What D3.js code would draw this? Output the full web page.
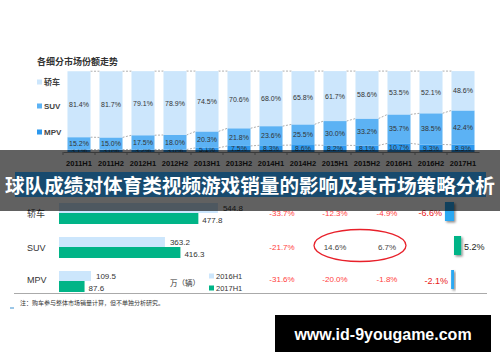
<!DOCTYPE html>
<html>
<head>
<meta charset="utf-8">
<script src="https://cdn.jsdelivr.net/npm/d3@7"></script>
<style>
  body { margin: 0; background: #fff; }
  svg { display: block; }
  text { font-family: "Liberation Sans", Arial, sans-serif; }
  .cn { font-family: "Noto Sans CJK SC", sans-serif; }
</style>
</head>
<body>
<svg id="chart" width="500" height="362"></svg>
<script>
// share trend per half year
var periods = ["2011H1","2011H2","2012H1","2012H2","2013H1","2013H2","2014H1","2014H2","2015H1","2015H2","2016H1","2016H2","2017H1"];
var sedanShare = [81.4, 81.7, 79.1, 78.9, 74.5, 70.6, 68.0, 65.8, 61.7, 58.6, 53.5, 52.1, 48.6];
var suvShare   = [15.2, 15.0, 17.5, 18.0, 20.3, 21.8, 23.6, 25.5, 30.0, 33.2, 35.7, 38.5, 42.4];
var mpvShare   = [3.1, 3.0, 3.2, 3.0, 5.1, 7.5, 8.3, 8.6, 8.2, 8.1, 10.7, 9.3, 8.9];
var segNames = ["轿车", "SUV", "MPV"];

// volume (万辆) 2016H1 vs 2017H1
var cats = ["轿车", "SUV", "MPV"];
var vol2016 = [544.8, 363.2, 109.5];
var vol2017 = [477.8, 416.3, 87.6];
var pctCols = [
  ["-33.7%", "-21.7%", "-31.6%"],
  ["-12.3%", "14.6%", "-20.0%"],
  ["-4.9%", "6.7%", "-1.8%"]
];
var growth = [-6.6, 5.2, -2.1];

var svg = d3.select("#chart");
var segColors = {"轿车": "#cce6fc", "SUV": "#5cb2f4", "MPV": "#2b98ee"};

// ---------- top: stacked share bars ----------
svg.append("text").attr("class","cn").attr("x",37).attr("y",65)
  .attr("font-size",9).attr("font-weight","bold").attr("fill","#333").text("各细分市场份额走势");

var legY = [82, 106, 132];
segNames.forEach(function(n, i){
  svg.append("rect").attr("x",37).attr("y",legY[i]-2.5).attr("width",5).attr("height",5).attr("fill",segColors[n]);
  svg.append("text").attr("class", i==0 ? "cn" : null).attr("x",44).attr("y",legY[i]+3)
    .attr("font-size",8).attr("font-weight","bold").attr("fill","#444").text(n);
});

var x = d3.scaleBand().domain(periods).range([63, 479]).paddingInner(0.28).paddingOuter(0.14);
var y = d3.scaleLinear().domain([0, 100]).range([152, 71]);

var rows = periods.map(function(p, i){
  return {period: p, "MPV": mpvShare[i], "SUV": suvShare[i], "轿车": sedanShare[i]};
});
var stacked = d3.stack().keys(["MPV","SUV","轿车"])(rows);

// dashed connectors between bars
var bw = x.bandwidth();
stacked.forEach(function(layer){
  for (var i = 0; i < periods.length - 1; i++) {
    svg.append("line")
      .attr("x1", x(periods[i]) + bw).attr("y1", y(layer[i][1]))
      .attr("x2", x(periods[i+1])).attr("y2", y(layer[i+1][1]))
      .attr("stroke","#999").attr("stroke-width",0.8).attr("stroke-dasharray","2,1.5");
  }
});

stacked.forEach(function(layer){
  var g = svg.append("g");
  g.selectAll("rect").data(layer).enter().append("rect")
    .attr("x", function(d){ return x(d.data.period); })
    .attr("y", function(d){ return y(d[1]); })
    .attr("width", bw)
    .attr("height", function(d){ return y(d[0]) - y(d[1]); })
    .attr("fill", segColors[layer.key]);
  g.selectAll("text").data(layer).enter().append("text")
    .attr("x", function(d){ return x(d.data.period) + bw/2; })
    .attr("y", function(d){ return (y(d[0]) + y(d[1]))/2 + 2.5; })
    .attr("text-anchor","middle").attr("font-size",7).attr("fill","#333")
    .text(function(d){ return (d[1]-d[0]).toFixed(1) + "%"; });
});

var xAxis = svg.append("g").attr("transform","translate(0,152)")
  .call(d3.axisBottom(x).tickSize(0).tickPadding(9));
xAxis.select(".domain").attr("stroke","#999");
xAxis.selectAll("text").attr("font-size",7.5).attr("font-weight","bold").attr("fill","#222")
  .attr("font-family","Liberation Sans, Arial, sans-serif");
periods.forEach(function(p){
  svg.append("line").attr("x1", x(p) - (x.step()-bw)/2).attr("x2", x(p) - (x.step()-bw)/2)
    .attr("y1",152).attr("y2",155).attr("stroke","#999");
});

// ---------- bottom: volumes ----------
var yc = d3.scaleBand().domain(cats).range([196, 298]);
var xv = d3.scaleLinear().domain([0, 600]).range([59, 234]);
var textShift = [0, 0, -2]; // MPV row text sits a bit higher than its bars

cats.forEach(function(c, i){
  var cy = yc(c) + yc.bandwidth()/2;
  svg.append("text").attr("class", i==0 ? "cn" : null).attr("x",27).attr("y",cy+3.5+textShift[i])
    .attr("font-size",9).attr("fill","#333").text(c);
  svg.append("rect").attr("x",xv(0)).attr("y",cy-10).attr("width",xv(vol2016[i])-xv(0)).attr("height",10)
    .attr("fill","#cce6fc");
  svg.append("rect").attr("x",xv(0)).attr("y",cy).attr("width",xv(vol2017[i])-xv(0)).attr("height",11)
    .attr("fill","#00b487");
  svg.append("text").attr("x",xv(vol2016[i])+5).attr("y",cy-2).attr("font-size",8).attr("fill","#333")
    .text(vol2016[i].toFixed(1));
  svg.append("text").attr("x",xv(vol2017[i])+4).attr("y",cy+10).attr("font-size",8).attr("fill","#333")
    .text(vol2017[i].toFixed(1));
});

var colX = [282, 335, 387];
pctCols.forEach(function(col, j){
  col.forEach(function(t, i){
    var cy = yc(cats[i]) + yc.bandwidth()/2;
    svg.append("text").attr("x",colX[j]).attr("y",cy+3+textShift[i]).attr("text-anchor","middle")
      .attr("font-size",8).attr("fill", t.charAt(0)=="-" ? "#ff4040" : "#444").text(t);
  });
});
svg.append("ellipse").attr("cx",360).attr("cy",245.5).attr("rx",46).attr("ry",16)
  .attr("fill","none").attr("stroke","#e8202a").attr("stroke-width",1.3);

// growth bars
var defs = svg.append("defs");
defs.append("filter").attr("id","sh").attr("x","-50%").attr("y","-50%").attr("width","200%").attr("height","200%")
  .append("feDropShadow").attr("dx",1.5).attr("dy",1.5).attr("stdDeviation",0.8)
  .attr("flood-color","#000").attr("flood-opacity",0.45);
var xg = d3.scaleLinear().domain([-10, 10]).range([440.3, 467.7]);
growth.forEach(function(v, i){
  var cy = yc(cats[i]) + yc.bandwidth()/2;
  var x0 = Math.min(xg(0), xg(v)), w = Math.abs(xg(v) - xg(0));
  svg.append("rect").attr("x",x0).attr("y",cy-11).attr("width",w).attr("height",19)
    .attr("fill", v < 0 ? "#2aa8f2" : "#00b487").attr("filter","url(#sh)");
  var lbl = v.toFixed(1) + "%";
  if (v < 0) {
    svg.append("text").attr("x",x0-3).attr("y",cy+3).attr("text-anchor","end")
      .attr("font-size",9).attr("fill","#e82020").text(lbl);
  } else {
    svg.append("text").attr("x",x0+w+3).attr("y",cy+3).attr("font-size",9).attr("fill","#222").text(lbl);
  }
});

// legend / unit
svg.append("text").attr("class","cn").attr("x",170).attr("y",286).attr("font-size",7.5).attr("fill","#333").text("万（辆）");
[["2016H1","#cce6fc",276],["2017H1","#00b487",288]].forEach(function(l){
  svg.append("rect").attr("x",209).attr("y",l[2]-2.5).attr("width",5).attr("height",5).attr("fill",l[1]);
  svg.append("text").attr("x",216).attr("y",l[2]+3).attr("font-size",7.5).attr("fill","#333").text(l[0]);
});

svg.append("line").attr("x1",14).attr("x2",487).attr("y1",293.5).attr("y2",293.5).attr("stroke","#aaa").attr("stroke-width",1);
svg.append("text").attr("class","cn").attr("x",20).attr("y",305).attr("font-size",6).attr("fill","#333")
  .text("注：购车参与整体市场销量计算，但不单独分析研究。");
svg.append("rect").attr("x",10).attr("y",307.5).attr("width",4).attr("height",1).attr("fill","#3a8fd0");

// ---------- overlay banner ----------
svg.append("rect").attr("x",0).attr("y",150).attr("width",500).attr("height",61).attr("fill","rgba(0,0,0,0.62)");
svg.append("rect").attr("x",15).attr("y",172).attr("width",471).attr("height",25).attr("fill","#174a6e");
svg.append("text").attr("class","cn").attr("x",250).attr("y",193).attr("text-anchor","middle")
  .attr("font-size",19.6).attr("font-weight","bold").attr("fill","#fff")
  .text("球队成绩对体育类视频游戏销量的影响及其市场策略分析");

// watermark
svg.append("rect").attr("x",275).attr("y",315).attr("width",216).attr("height",37).attr("fill","#000");
svg.append("text").attr("x",383).attr("y",340).attr("text-anchor","middle")
  .attr("font-family","DejaVu Sans, sans-serif").attr("font-size",16).attr("font-weight","bold")
  .attr("fill","#fff").text("www.id-9yougame.com");
</script>
</body>
</html>
